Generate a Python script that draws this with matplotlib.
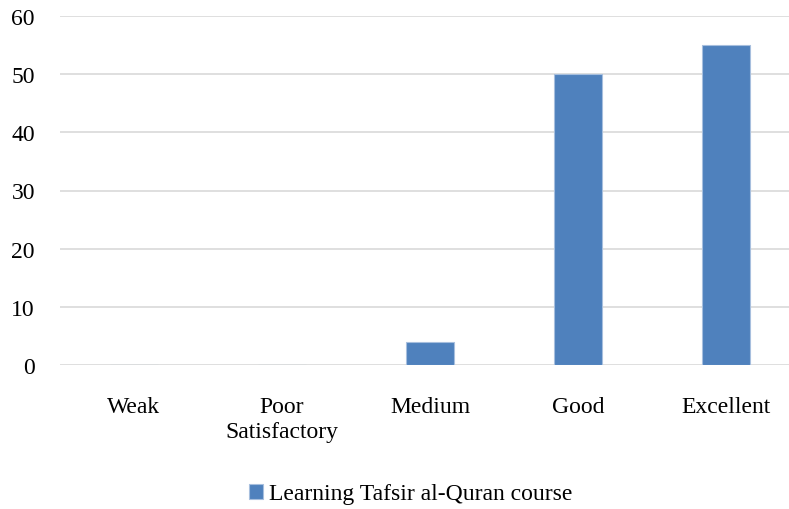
import matplotlib.pyplot as plt
import numpy as np

categories = ['Weak', 'Poor\nSatisfactory', 'Medium', 'Good', 'Excellent']
values = [0, 0, 4, 50, 55]
yticks = [0, 10, 20, 30, 40, 50, 60]
series_name = 'Learning Tafsir al-Quran course'

plt.rcParams['font.family'] = ['Liberation Serif', 'DejaVu Serif']

fig = plt.figure(figsize=(7.89, 5.10), dpi=100)
ax = fig.add_axes([60 / 789, 144 / 510, 740 / 789, 349 / 510])

x = np.arange(len(categories))
ax.bar(x, values, width=0.32, color='#4F81BD', edgecolor='#A7BFDE',
       linewidth=0.8, label=series_name, zorder=3)

ax.set_xlim(-0.5, len(categories) - 0.5)
ax.set_ylim(0, 60)
ax.set_yticks(yticks)
ax.set_xticks(x)
ax.set_xticklabels(categories, fontsize=17, linespacing=1.25, va='top')
ax.tick_params(axis='y', labelsize=17, length=0, pad=18)
ax.tick_params(axis='x', length=0, pad=22)
ax.grid(axis='y', color='#D9D9D9', linewidth=1.2, zorder=0)
for s in ax.spines.values():
    s.set_visible(False)

fig.legend(loc='center', bbox_to_anchor=(411 / 789, 15 / 510), frameon=False,
           fontsize=17, handlelength=0.6, handleheight=0.6, handletextpad=0.25)

fig.savefig('out.png', dpi=100)
